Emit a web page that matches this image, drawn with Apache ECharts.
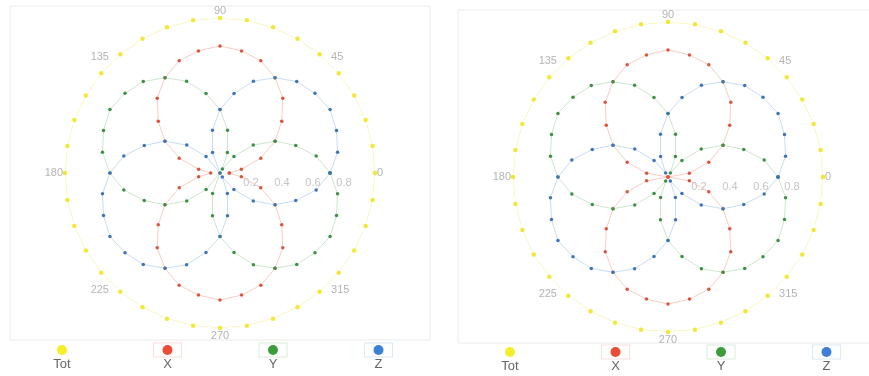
<!DOCTYPE html>
<html>
<head>
<meta charset="utf-8">
<script src="https://cdn.jsdelivr.net/npm/echarts@6/dist/echarts.min.js"></script>
<style>
  html, body { margin: 0; padding: 0; background: #ffffff; }
  #chart { width: 869px; height: 376px; }
</style>
</head>
<body>
<div id="chart"></div>
<script>
// Sample directions in degrees (last point closes each loop)
const angles = [0, 10, 20, 30, 40, 50, 60, 70, 80, 90, 100, 110, 120, 130, 140, 150, 160, 170,
  180, 190, 200, 210, 220, 230, 240, 250, 260, 270, 280, 290, 300, 310, 320, 330, 340, 350, 360];

// Left panel
const totLeft = [1, 1, 1, 1, 1, 1, 1, 1, 1, 1, 1, 1, 1, 1, 1, 1, 1, 1,
  1, 1, 1, 1, 1, 1, 1, 1, 1, 1, 1, 1, 1, 1, 1, 1, 1, 1, 1];
const xLeft = [0.06, 0.14, 0.28, 0.41, 0.52, 0.63, 0.71, 0.77, 0.80, 0.82, 0.80, 0.77, 0.71, 0.63, 0.52, 0.41, 0.28, 0.14,
  0.06, 0.14, 0.28, 0.41, 0.52, 0.63, 0.71, 0.77, 0.80, 0.82, 0.80, 0.77, 0.71, 0.63, 0.52, 0.41, 0.28, 0.14, 0.06];
const yLeft = [0.71, 0.63, 0.52, 0.41, 0.28, 0.14, 0.03, 0.14, 0.28, 0.41, 0.52, 0.63, 0.71, 0.77, 0.80, 0.82, 0.80, 0.77,
  0.71, 0.63, 0.52, 0.41, 0.28, 0.14, 0.00, 0.14, 0.28, 0.41, 0.52, 0.63, 0.71, 0.77, 0.80, 0.82, 0.80, 0.77, 0.71];
const zLeft = [0.71, 0.77, 0.80, 0.82, 0.80, 0.77, 0.71, 0.63, 0.52, 0.41, 0.28, 0.14, 0.00, 0.14, 0.28, 0.41, 0.52, 0.63,
  0.71, 0.77, 0.80, 0.82, 0.80, 0.77, 0.71, 0.63, 0.52, 0.41, 0.28, 0.14, 0.03, 0.14, 0.28, 0.41, 0.52, 0.63, 0.71];

// Right panel
const totRight = [1, 1, 1, 1, 1, 1, 1, 1, 1, 1, 1, 1, 1, 1, 1, 1, 1, 1,
  1, 1, 1, 1, 1, 1, 1, 1, 1, 1, 1, 1, 1, 1, 1, 1, 1, 1, 1];
const xRight = [0.00, 0.14, 0.28, 0.41, 0.52, 0.63, 0.71, 0.77, 0.80, 0.82, 0.80, 0.77, 0.71, 0.63, 0.52, 0.41, 0.28, 0.14,
  0.00, 0.14, 0.28, 0.41, 0.52, 0.63, 0.71, 0.77, 0.80, 0.82, 0.80, 0.77, 0.71, 0.63, 0.52, 0.41, 0.28, 0.14, 0.00];
const yRight = [0.71, 0.63, 0.52, 0.41, 0.28, 0.14, 0.03, 0.14, 0.28, 0.41, 0.52, 0.63, 0.71, 0.77, 0.80, 0.82, 0.80, 0.77,
  0.71, 0.63, 0.52, 0.41, 0.28, 0.14, 0.03, 0.14, 0.28, 0.41, 0.52, 0.63, 0.71, 0.77, 0.80, 0.82, 0.80, 0.77, 0.71];
const zRight = [0.71, 0.77, 0.80, 0.82, 0.80, 0.77, 0.71, 0.63, 0.52, 0.41, 0.28, 0.14, 0.03, 0.14, 0.28, 0.41, 0.52, 0.63,
  0.71, 0.77, 0.80, 0.82, 0.80, 0.77, 0.71, 0.63, 0.52, 0.41, 0.28, 0.14, 0.03, 0.14, 0.28, 0.41, 0.52, 0.63, 0.71];

const seriesNames = ['Tot', 'X', 'Y', 'Z'];
const dotColors = ['#f1e83a', '#d8553f', '#3f8f45', '#3f74b8'];
const lineColors = ['#f8f4b4', '#f6cdc4', '#cce6cc', '#c9dcf2'];
const legendColors = ['#f7ee2a', '#ea4c35', '#3c9c3c', '#3a80d4'];

const panels = [
  { center: [220, 173], values: [totLeft, xLeft, yLeft, zLeft], frame: [10, 6, 420, 334], legendX: 62, legendY: 350 },
  { center: [668, 177], values: [totRight, xRight, yRight, zRight], frame: [458, 10, 420, 333], legendX: 510, legendY: 352 }
];
const legendStep = 105.5;
const plotRadius = 155;

const polar = [], angleAxis = [], radiusAxis = [], series = [], graphic = [];

panels.forEach((p, pi) => {
  polar.push({ center: p.center, radius: plotRadius });
  angleAxis.push({
    polarIndex: pi, type: 'value', min: 0, max: 360, interval: 45,
    startAngle: 0, clockwise: false,
    axisLine: { show: false }, axisTick: { show: false }, splitLine: { show: false },
    axisLabel: { color: '#b4b4b4', fontSize: 11, margin: 2, fontFamily: 'Liberation Sans, Arial, sans-serif' }
  });
  radiusAxis.push({
    polarIndex: pi, type: 'value', min: 0, max: 1, interval: 0.2,
    axisLine: { show: false }, axisTick: { show: false }, splitLine: { show: false },
    axisLabel: {
      color: '#c4c4c4', fontSize: 11, showMinLabel: false, showMaxLabel: false,
      margin: -4, verticalAlign: 'top',
      fontFamily: 'Liberation Sans, Arial, sans-serif'
    }
  });
  p.values.forEach((vals, si) => {
    series.push({
      type: 'line', coordinateSystem: 'polar', polarIndex: pi,
      name: seriesNames[si],
      data: vals.map((v, i) => [v, angles[i]]),
      symbol: 'circle', symbolSize: si === 0 ? 4.5 : 3.5,
      showSymbol: true, showAllSymbol: true, clip: false,
      itemStyle: { color: dotColors[si] },
      lineStyle: { color: lineColors[si], width: 1 },
      z: 2 + si,
      silent: true
    });
  });

  // panel frame
  graphic.push({
    type: 'rect', shape: { x: p.frame[0], y: p.frame[1], width: p.frame[2], height: p.frame[3] },
    style: { fill: 'none', stroke: '#ececec', lineWidth: 1 }, silent: true, z: 0
  });

  // legend: marker above name
  seriesNames.forEach((name, si) => {
    const cx = p.legendX + si * legendStep;
    if (si > 0) {
      graphic.push({
        type: 'rect', shape: { x: cx - 14, y: p.legendY - 7, width: 28, height: 14 },
        style: { fill: 'none', stroke: legendColors[si], opacity: 0.18, lineWidth: 1 }, silent: true
      });
    }
    graphic.push({
      type: 'circle', shape: { cx: cx, cy: p.legendY, r: 5 },
      style: { fill: legendColors[si] }, silent: true
    });
    graphic.push({
      type: 'text', x: cx, y: p.legendY + 14,
      style: {
        text: name, fill: '#666', fontSize: 13, align: 'center', verticalAlign: 'middle',
        fontFamily: 'Liberation Sans, Arial, sans-serif'
      }, silent: true
    });
  });
});

const chart = echarts.init(document.getElementById('chart'), null, { renderer: 'canvas' });
chart.setOption({
  animation: false,
  backgroundColor: '#ffffff',
  polar, angleAxis, radiusAxis, series, graphic
});
</script>
</body>
</html>
